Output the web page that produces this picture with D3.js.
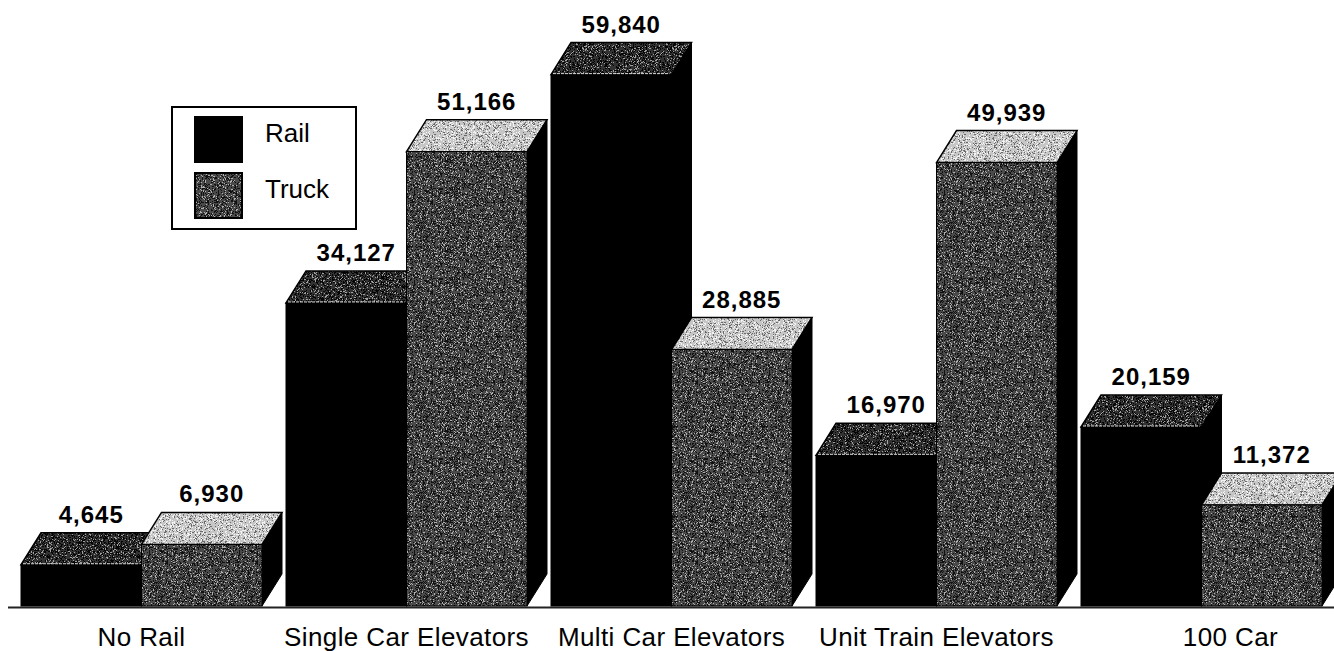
<!DOCTYPE html>
<html>
<head>
<meta charset="utf-8">
<script src="https://cdn.jsdelivr.net/npm/d3@7/dist/d3.min.js"></script>
<style>
  html, body { margin: 0; padding: 0; background: #fff; }
  svg { display: block; }
  text { font-family: Arial, "Liberation Sans", sans-serif; fill: #000; }
</style>
</head>
<body>
<svg id="chart" width="1334" height="651"></svg>
<script>
// Elevator shipments by mode, grouped by elevator type
const categories = ["No Rail", "Single Car Elevators", "Multi Car Elevators", "Unit Train Elevators", "100 Car"];
const series = ["Rail", "Truck"];
const railValues  = [4645, 34127, 59840, 16970, 20159];
const truckValues = [6930, 51166, 28885, 49939, 11372];

const W = 1334, H = 651;
const svg = d3.select("#chart");
const defs = svg.append("defs");

// Seeded generator used only for the stipple texture grain
let seed = 12345;
function rnd() { seed = (seed * 1103515245 + 12345) % 2147483648; return seed / 2147483648; }

function stipple(id, base, darkRate, lightRate, dark, light) {
  const size = 90;
  const p = defs.append("pattern").attr("id", id)
    .attr("patternUnits", "userSpaceOnUse").attr("width", size).attr("height", size);
  p.append("rect").attr("width", size).attr("height", size).attr("fill", base);
  for (let y = 0; y < size; y++) {
    for (let x = 0; x < size; x++) {
      const r = rnd();
      if (r < darkRate) p.append("rect").attr("x", x).attr("y", y).attr("width", 1).attr("height", 1).attr("fill", dark);
      else if (r < darkRate + lightRate) p.append("rect").attr("x", x).attr("y", y).attr("width", 1).attr("height", 1).attr("fill", light);
    }
  }
}
stipple("truckFront", "#4a4a4a", 0.28, 0.12, "#111", "#b0b0b0");
stipple("truckTop", "#c6c6c6", 0.15, 0.2, "#6a6a6a", "#f4f4f4");
stipple("railTop", "#333", 0.3, 0.12, "#050505", "#a0a0a0");

const fills = {
  Rail:  { front: "#000", top: "url(#railTop)", side: "#000" },
  Truck: { front: "url(#truckFront)", top: "url(#truckTop)", side: "#000" }
};

// Scales
const x0 = d3.scaleBand().domain(categories).range([9, 1334]).paddingInner(24 / 265).paddingOuter(12 / 265);
const x1 = d3.scaleBand().domain(series).range([0, x0.bandwidth()]);
const y = d3.scaleLinear().domain([0, 60000]).range([606, 73.2]);

// Depth offset of the 3D extrusion
const DX = 20, DY = 32;

const rows = categories.map((c, i) => ({ cat: c, values: [
  { s: "Rail", v: railValues[i] }, { s: "Truck", v: truckValues[i] }
]}));

// Baseline
svg.append("line").attr("x1", 8).attr("x2", 1334).attr("y1", 607.5).attr("y2", 607.5)
  .attr("stroke", "#222").attr("stroke-width", 2);

const groups = svg.append("g").selectAll("g").data(rows).join("g")
  .attr("transform", d => `translate(${x0(d.cat)},0)`);

const bars = groups.selectAll("g.bar").data(d => d.values).join("g").attr("class", "bar");

bars.each(function(d) {
  const g = d3.select(this);
  const xl = x1(d.s), xr = xl + x1.bandwidth();
  const yt = y(d.v), yb = y(0);
  const f = fills[d.s];
  // side face
  g.append("polygon")
    .attr("points", [[xr, yt], [xr + DX, yt - DY], [xr + DX, yb - DY], [xr, yb]].join(" "))
    .attr("fill", f.side).attr("stroke", "#000").attr("stroke-width", 1);
  // top face
  g.append("polygon")
    .attr("points", [[xl, yt], [xl + DX, yt - DY], [xr + DX, yt - DY], [xr, yt]].join(" "))
    .attr("fill", f.top).attr("stroke", "#000").attr("stroke-width", 1.5);
  // front face
  g.append("rect").attr("x", xl).attr("y", yt).attr("width", xr - xl).attr("height", yb - yt)
    .attr("fill", f.front).attr("stroke", "#000").attr("stroke-width", 1);
  if (d.s === "Rail") {
    g.append("line").attr("x1", xl + 2).attr("x2", xr - 2).attr("y1", yt - 1).attr("y2", yt - 1)
      .attr("stroke", "#d8d8d8").attr("stroke-width", 1).attr("stroke-dasharray", "3 1");
  }
  // value label
  g.append("text")
    .attr("x", (xl + xr) / 2 + DX / 2)
    .attr("y", yt - DY - 10)
    .attr("text-anchor", "middle")
    .style("font-size", "24px").style("font-weight", "bold").style("letter-spacing", "1px")
    .text(d3.format(",")(d.v));
});

// Category labels
const lastShift = 29;
svg.append("g").selectAll("text").data(categories).join("text")
  .attr("x", (c, i) => x0(c) + x0.bandwidth() / 2 + (i === categories.length - 1 ? lastShift : 0))
  .attr("y", 646)
  .attr("text-anchor", "middle")
  .style("font-size", "26px").style("letter-spacing", "0.4px")
  .text(c => c);

// Legend
const lg = svg.append("g");
lg.append("rect").attr("x", 172).attr("y", 107).attr("width", 184).attr("height", 122)
  .attr("fill", "#fff").attr("stroke", "#000").attr("stroke-width", 2);
const legendItems = series.map((s, i) => ({ s, y: 117 + i * 56 }));
lg.selectAll("rect.sw").data(legendItems).join("rect").attr("class", "sw")
  .attr("x", 195).attr("y", d => d.y).attr("width", 47).attr("height", 45)
  .attr("fill", d => fills[d.s].front).attr("stroke", "#000").attr("stroke-width", 2);
lg.selectAll("text").data(legendItems).join("text")
  .attr("x", 265).attr("y", d => d.y + 25)
  .style("font-size", "26px")
  .text(d => d.s);
</script>
</body>
</html>
